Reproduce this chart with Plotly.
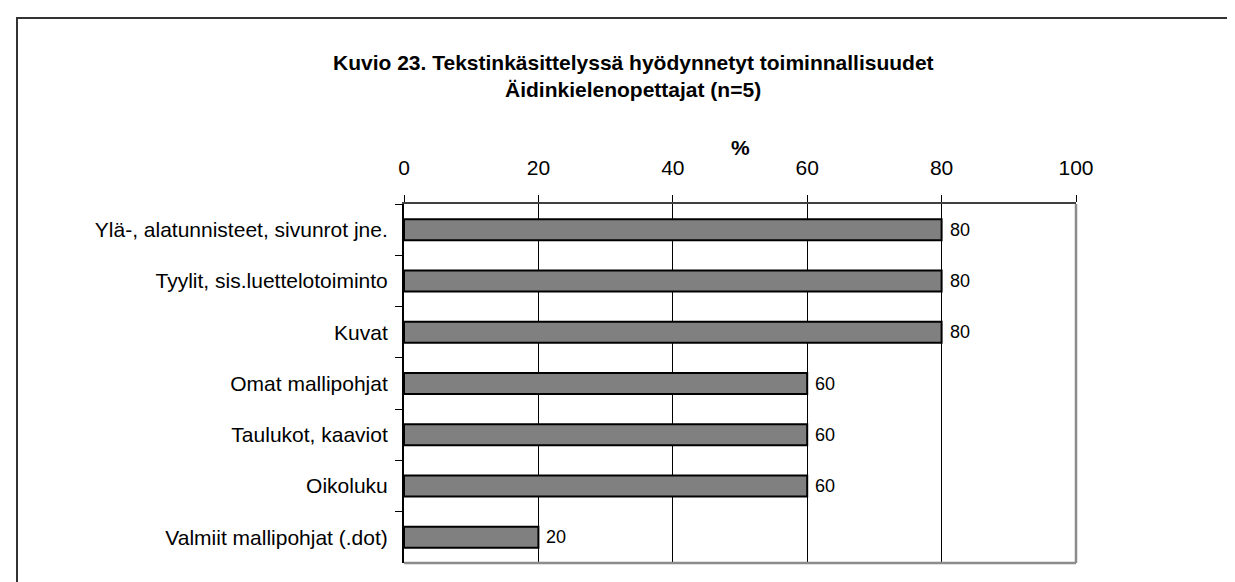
import plotly.graph_objects as go

# data
categories = [
    'Ylä-, alatunnisteet, sivunrot jne.',
    'Tyylit, sis.luettelotoiminto',
    'Kuvat',
    'Omat mallipohjat',
    'Taulukot, kaaviot',
    'Oikoluku',
    'Valmiit mallipohjat (.dot)',
]
values = [80, 80, 80, 60, 60, 60, 20]
x_ticks = [0, 20, 40, 60, 80, 100]

title_lines = ['Kuvio 23. Tekstinkäsittelyssä hyödynnetyt toiminnallisuudet',
               'Äidinkielenopettajat (n=5)']
font_family = 'Arial, Liberation Sans, sans-serif'

W, H = 1235, 582
L, R, T, B = 396, 167, 196, 27
pw, ph = W - L - R, H - T - B


def px_x(x):
    return (x - L) / pw


def px_y(y):
    return (H - B - y) / ph


fig = go.Figure()
fig.add_trace(go.Bar(
    x=values, y=categories, orientation='h',
    marker=dict(color='#808080', line=dict(color='black', width=2)),
    showlegend=False, hoverinfo='x+y',
))

annotations = []
# value labels next to bar ends
for c, v in zip(categories, values):
    annotations.append(dict(x=v, y=c, text=str(v), showarrow=False,
                            xanchor='left', yanchor='middle', xshift=6,
                            font=dict(size=18, color='black')))
# two-line title
for line, y in zip(title_lines, [55, 82]):
    annotations.append(dict(text='<b>%s</b>' % line, xref='paper', yref='paper',
                            x=px_x(625), y=px_y(y), showarrow=False,
                            xanchor='center', yanchor='middle',
                            font=dict(size=21, color='black')))
annotations.append(dict(text='<b>%</b>', xref='paper', yref='paper',
                        x=0.5, y=px_y(139), showarrow=False,
                        xanchor='center', yanchor='middle',
                        font=dict(size=21, color='black')))

fig.update_layout(
    width=W, height=H,
    margin=dict(l=L, r=R, t=T, b=B),
    paper_bgcolor='white', plot_bgcolor='white',
    bargap=0.59,
    font=dict(family=font_family, color='black', size=21),
    xaxis=dict(
        side='top', range=[0, 100], tickvals=x_ticks,
        showgrid=True, gridcolor='black', gridwidth=1,
        showline=True, linecolor='#404040', linewidth=2,
        ticks='outside', ticklen=7, tickcolor='black',
        tickfont=dict(size=21), zeroline=False, fixedrange=True,
        ticklabelstandoff=12,
    ),
    yaxis=dict(
        autorange='reversed', tickson='boundaries',
        showline=True, linecolor='black', linewidth=2,
        ticks='outside', ticklen=7, tickcolor='black',
        tickfont=dict(size=21), showgrid=False, zeroline=False,
        ticklabelstandoff=10, fixedrange=True,
    ),
    shapes=[
        # grey plot-area border on the right and bottom
        dict(type='line', xref='paper', yref='paper', x0=1, x1=1, y0=0, y1=1,
             line=dict(color='#8c8c8c', width=2.5)),
        dict(type='line', xref='paper', yref='paper', x0=0, x1=1, y0=0, y1=0,
             line=dict(color='#8c8c8c', width=2.5)),
        # outer chart border (only top & left fall inside the picture)
        dict(type='rect', xref='paper', yref='paper',
             x0=px_x(9), x1=px_x(W + 10), y0=px_y(H + 10), y1=px_y(10),
             line=dict(color='#333333', width=2), layer='below'),
    ],
    annotations=annotations,
)

fig.write_html('out.html')
